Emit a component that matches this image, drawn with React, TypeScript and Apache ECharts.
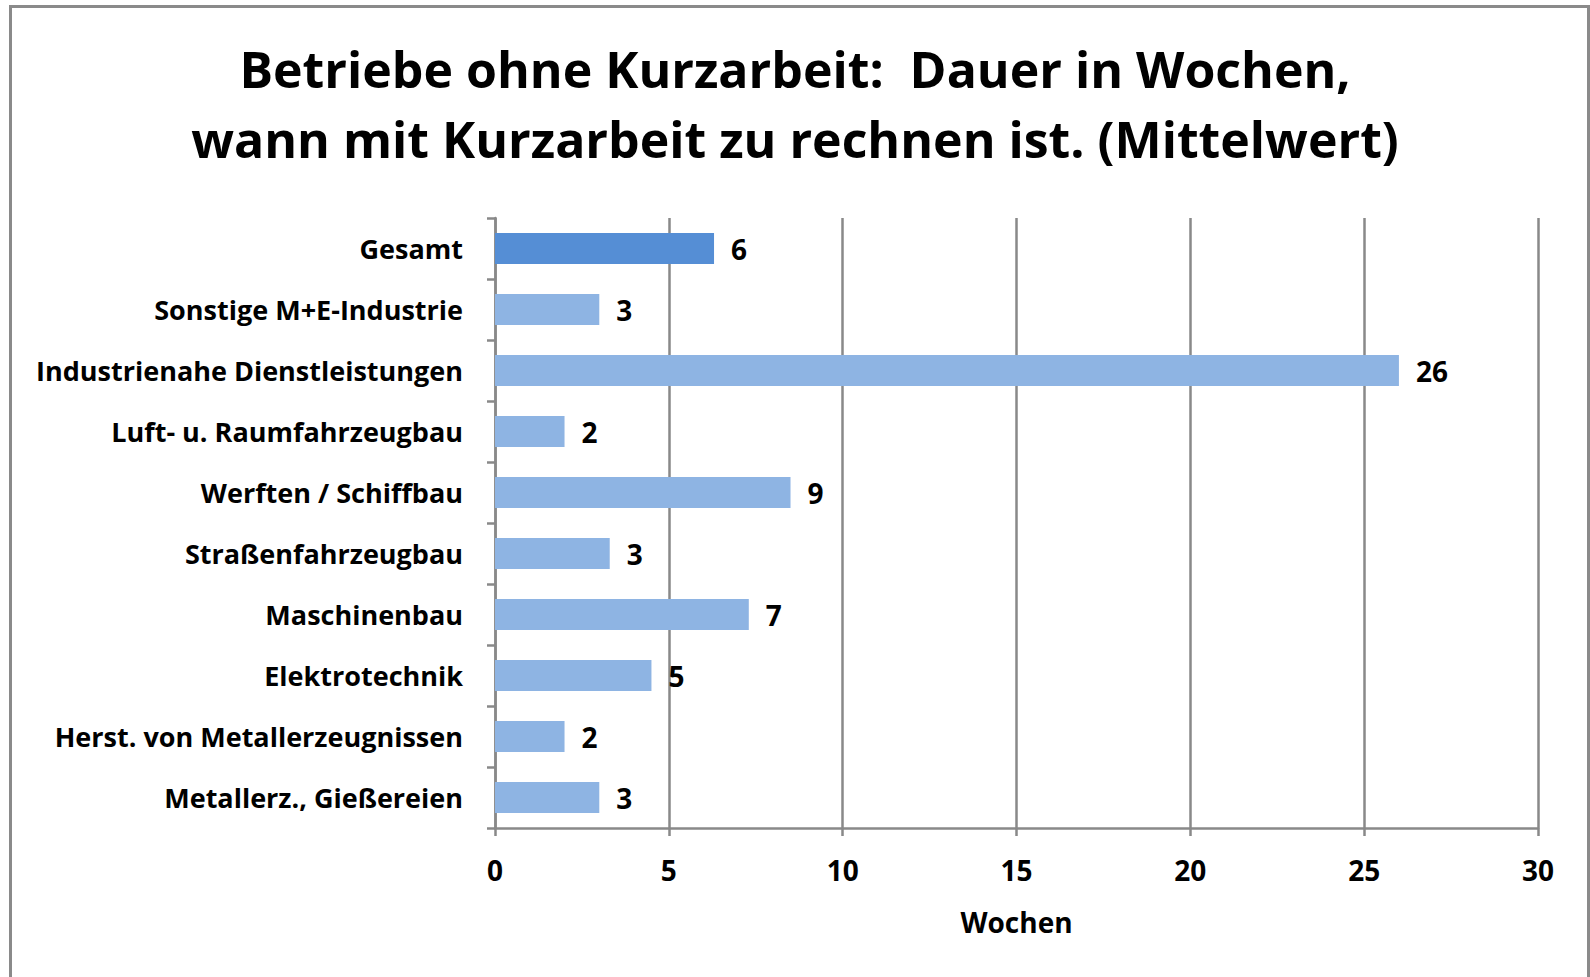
import React, { useEffect, useRef } from "react";
import * as echarts from "echarts";

const categories = [
  "Gesamt",
  "Sonstige M+E-Industrie",
  "Industrienahe Dienstleistungen",
  "Luft- u. Raumfahrzeugbau",
  "Werften / Schiffbau",
  "Straßenfahrzeugbau",
  "Maschinenbau",
  "Elektrotechnik",
  "Herst. von Metallerzeugnissen",
  "Metallerz., Gießereien",
];
const values = [6.3, 3.0, 26.0, 2.0, 8.5, 3.3, 7.3, 4.5, 2.0, 3.0];
const highlight = ["Gesamt"];
const titleLines = [
  "Betriebe ohne Kurzarbeit:  Dauer in Wochen,",
  "wann mit Kurzarbeit zu rechnen ist. (Mittelwert)",
];
const axisName = "Wochen";

const FONT = "Open Sans";
const GRAY = "#898989";

export default function App() {
  const ref = useRef<HTMLDivElement>(null);
  useEffect(() => {
    if (!ref.current) return;
    const chart = echarts.init(ref.current, null, { renderer: "svg" });
    chart.setOption({
      animation: false,
      backgroundColor: "#ffffff",
      title: {
        text: titleLines.join("\n"),
        left: "center",
        top: 29,
        textStyle: {
          fontFamily: FONT,
          fontWeight: "bold",
          fontSize: 50,
          lineHeight: 70,
          color: "#000000",
        },
      },
      graphic: [
        {
          type: "rect",
          shape: { x: 10.5, y: 6.5, width: 1578, height: 1000 },
          style: { fill: "none", stroke: "#8a8a8a", lineWidth: 3 },
          silent: true,
        },
      ],
      grid: { left: 495, right: 52, top: 218, bottom: 149, containLabel: false },
      xAxis: {
        type: "value",
        min: 0,
        max: 30,
        interval: 5,
        name: axisName,
        nameLocation: "middle",
        nameGap: 80,
        nameTextStyle: { fontFamily: FONT, fontWeight: "bold", fontSize: 28, color: "#000" },
        axisLine: { show: true, lineStyle: { color: GRAY, width: 2.5 } },
        axisTick: { show: true, length: 8, lineStyle: { color: GRAY, width: 2.5 } },
        axisLabel: { fontFamily: FONT, fontWeight: "bold", fontSize: 28, color: "#000", margin: 28 },
        splitLine: { show: true, lineStyle: { color: GRAY, width: 2.5 } },
      },
      yAxis: {
        type: "category",
        data: categories,
        inverse: true,
        axisLine: { show: true, lineStyle: { color: GRAY, width: 2.5 } },
        axisTick: { show: true, length: 8, lineStyle: { color: GRAY, width: 2.5 } },
        axisLabel: { fontFamily: FONT, fontWeight: "bold", fontSize: 27, color: "#000", margin: 32 },
        splitLine: { show: false },
      },
      series: [
        {
          type: "bar",
          barWidth: 31,
          data: values.map((v, i) => ({
            value: v,
            itemStyle: {
              color: highlight.includes(categories[i]) ? "#558ED5" : "#8EB4E3",
            },
          })),
          label: {
            show: true,
            position: "right",
            distance: 17,
            fontFamily: FONT,
            fontWeight: "bold",
            fontSize: 28,
            color: "#000",
            formatter: (p: any) => String(Math.round(p.value)),
          },
        },
      ],
    });
    return () => chart.dispose();
  }, []);
  return (
    <div
      ref={ref}
      style={{ position: "absolute", left: 0, top: 0, width: 1590, height: 977 }}
    />
  );
}
